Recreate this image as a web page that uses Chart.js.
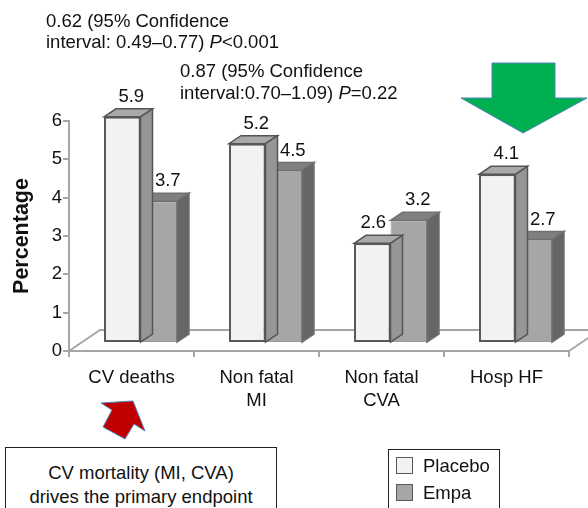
<!DOCTYPE html>
<html>
<head>
<meta charset="utf-8">
<script src="https://cdn.jsdelivr.net/npm/chart.js@4.4.0/dist/chart.umd.min.js"></script>
<style>
  body { margin: 0; background: #fff; font-family: 'Liberation Sans', Arial, sans-serif; color: #111; }
  #wrap { position: relative; width: 588px; height: 508px; overflow: hidden; }
  #chart { position: absolute; left: 0; top: 0; }
  #arrows { position: absolute; left: 0; top: 0; pointer-events: none; }
  .note { position: absolute; font-size: 18.5px; white-space: nowrap; }
  .box { position: absolute; border: 1px solid #222; background: #fff; }
  .swatch { position: absolute; width: 17px; height: 17px; border: 1px solid #595959; box-sizing: border-box; }
</style>
</head>
<body>
<div id="wrap">
  <canvas id="chart" width="588" height="508"></canvas>

  <div class="note" style="left:46px; top:10px; line-height:21px;">0.62 (95% Confidence<br>interval: 0.49–0.77) <i>P</i>&lt;0.001</div>
  <div class="note" style="left:180px; top:60px; line-height:22px;">0.87 (95% Confidence<br>interval:0.70–1.09) <i>P</i>=0.22</div>

  <svg id="arrows" width="588" height="508">
    <polygon points="492,63 555,63 555,98 587,98 523,133 461,98 492,98" fill="#00b050" stroke="#4f81bd" stroke-width="1"/>
    <polygon points="133,401 145,431 134,424 125,439 103,427 112,410 101,403" fill="#c00000" stroke="#4f81bd" stroke-width="1"/>
  </svg>

  <div class="box" style="left:5px; top:447px; width:270px; height:80px;">
    <div class="note" style="position:static; text-align:center; line-height:24px; padding-top:13px;">CV mortality (MI, CVA)<br>drives the primary endpoint</div>
  </div>

  <div class="box" style="left:388px; top:449px; width:110px; height:80px;"></div>
  <div class="swatch" style="left:396px; top:457px; background:#f2f2f2;"></div>
  <div class="note" style="left:423px; top:456px; line-height:20px;">Placebo</div>
  <div class="swatch" style="left:396px; top:484px; background:#a6a6a6;"></div>
  <div class="note" style="left:423px; top:483px; line-height:20px;">Empa</div>
</div>

<script>
// data
const categories = [['CV deaths'], ['Non fatal', 'MI'], ['Non fatal', 'CVA'], ['Hosp HF']];
const placebo = [5.9, 5.2, 2.6, 4.4];      // bar heights as drawn
const empa = [3.7, 4.5, 3.2, 2.7];
const placeboText = ['5.9', '5.2', '2.6', '4.1']; // printed labels
const empaText = ['3.7', '4.5', '3.2', '2.7'];
const yTicks = [0, 1, 2, 3, 4, 5, 6];

Chart.defaults.font.family = "'Liberation Sans', Arial, sans-serif";
Chart.defaults.color = '#111';

// 3d look: bars pushed back into the floor, plus top and side faces
const DX = 12, DY = -8;            // bar depth
const SHIFT_X = 9, SHIFT_Y = -8;   // bars sit mid-floor
const FLOOR_DX = 31, FLOOR_DY = -21;
const faces = [
  { top: '#a9a9a9', side: '#969696', line: '#555' },
  { top: '#808080', side: '#666666', line: '#707070' }
];
const AXIS = '#a6a6a6';

const bars3d = {
  id: 'bars3d',
  beforeDatasetsDraw(chart) {
    const { ctx, chartArea: a, scales: { y } } = chart;
    const y0 = y.getPixelForValue(0);
    ctx.save();
    ctx.strokeStyle = AXIS;
    ctx.lineWidth = 2;
    ctx.beginPath();
    ctx.moveTo(a.left, y0);
    ctx.lineTo(a.left + FLOOR_DX, y0 + FLOOR_DY);
    ctx.lineTo(a.right + FLOOR_DX, y0 + FLOOR_DY);
    ctx.moveTo(a.right, y0);
    ctx.lineTo(a.right + FLOOR_DX, y0 + FLOOR_DY);
    ctx.stroke();
    ctx.restore();
    ctx.save();
    ctx.translate(SHIFT_X, SHIFT_Y);
  },
  afterDatasetDraw(chart, args) {
    const ctx = chart.ctx;
    const c = faces[args.index];
    chart.getDatasetMeta(args.index).data.forEach(bar => {
      const l = bar.x - bar.width / 2, r = bar.x + bar.width / 2, t = bar.y, b = bar.base;
      ctx.lineWidth = 1.5;
      ctx.strokeStyle = c.line;
      ctx.beginPath();
      ctx.moveTo(l, t); ctx.lineTo(l + DX, t + DY); ctx.lineTo(r + DX, t + DY); ctx.lineTo(r, t);
      ctx.closePath();
      ctx.fillStyle = c.top; ctx.fill(); ctx.stroke();
      ctx.beginPath();
      ctx.moveTo(r, t); ctx.lineTo(r + DX, t + DY); ctx.lineTo(r + DX, b + DY); ctx.lineTo(r, b);
      ctx.closePath();
      ctx.fillStyle = c.side; ctx.fill(); ctx.stroke();
    });
  },
  afterDatasetsDraw(chart) {
    const ctx = chart.ctx;
    ctx.restore();
    ctx.save();
    ctx.font = "18.5px 'Liberation Sans', Arial, sans-serif";
    ctx.fillStyle = '#111';
    ctx.textAlign = 'center';
    ctx.textBaseline = 'middle';
    [placeboText, empaText].forEach((texts, di) => {
      chart.getDatasetMeta(di).data.forEach((bar, i) => {
        // placebo label slides left when the empa bar next to it is taller
        let off = SHIFT_X + 9;
        if (di === 0 && empa[i] > placebo[i]) off = SHIFT_X + 1;
        ctx.fillText(texts[i], bar.x + off, bar.y + SHIFT_Y - 20);
      });
    });
    ctx.restore();
  }
};

new Chart(document.getElementById('chart'), {
  type: 'bar',
  data: {
    labels: categories,
    datasets: [
      { label: 'Placebo', data: placebo, backgroundColor: '#f2f2f2', borderColor: '#595959', borderWidth: 2, borderSkipped: false, clip: false },
      { label: 'Empa', data: empa, backgroundColor: '#a6a6a6', borderColor: '#9a9a9a', borderWidth: 1, borderSkipped: false, clip: false }
    ]
  },
  options: {
    responsive: false,
    animation: false,
    layout: { padding: { top: 121, right: 19, bottom: 0, left: 0 } },
    datasets: { bar: { categoryPercentage: 0.584, barPercentage: 1 } },
    plugins: { legend: { display: false }, tooltip: { enabled: false } },
    scales: {
      x: {
        grid: { drawOnChartArea: false, offset: true, tickLength: 6, color: AXIS, lineWidth: 2 },
        border: { color: AXIS, width: 2 },
        ticks: { font: { size: 18.5, lineHeight: 1.25 }, padding: 9, maxRotation: 0, autoSkip: false },
        afterFit(s) { s.height = 157; }
      },
      y: {
        min: 0, max: 6,
        afterBuildTicks(s) { s.ticks = yTicks.map(v => ({ value: v })); },
        grid: { drawOnChartArea: false, tickLength: 6, color: AXIS, lineWidth: 2 },
        border: { color: AXIS, width: 2 },
        ticks: { font: { size: 18.5 }, padding: 1 },
        title: { display: true, text: 'Percentage', font: { size: 21.5, weight: 'bold' }, padding: { top: 9, bottom: 0 } },
        afterFit(s) { s.width = 69; }
      }
    }
  },
  plugins: [bars3d]
});
</script>
</body>
</html>
